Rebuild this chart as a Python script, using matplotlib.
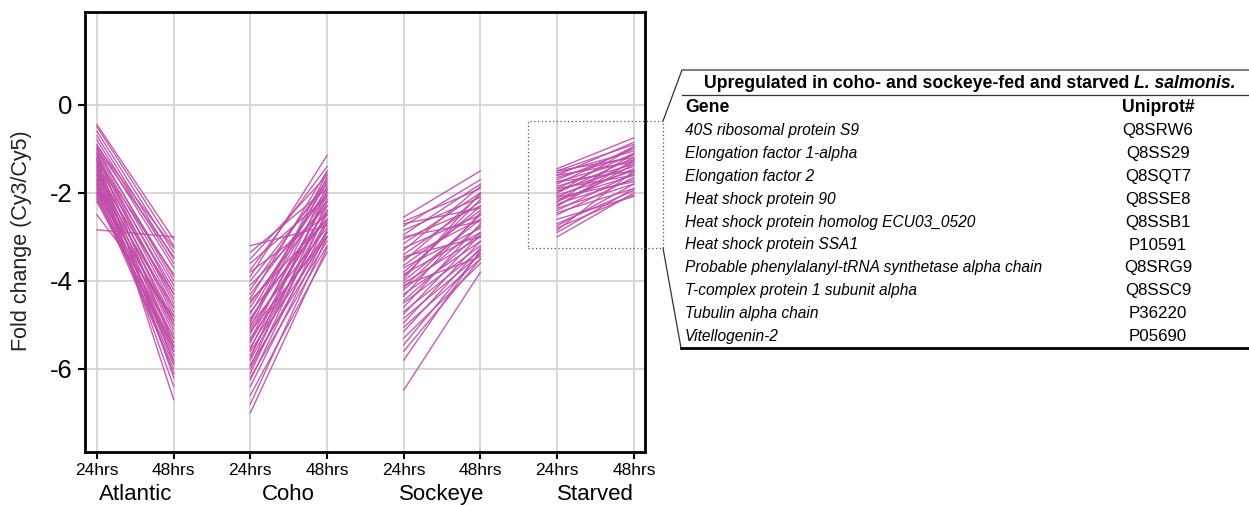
import matplotlib
matplotlib.use("Agg")
import matplotlib.pyplot as plt
from matplotlib.lines import Line2D
from matplotlib.patches import Rectangle

plt.rcParams['font.family'] = ['Liberation Sans', 'DejaVu Sans']

W, H = 1249, 505

# fold change at 24hrs / 48hrs for each gene, per group
atlantic_24 = [-0.45, -0.5, -0.6, -0.7, -0.8, -0.9, -1.0, -0.95, -1.05, -1.1, -1.15, -1.2,
               -1.25, -1.3, -1.35, -1.4, -1.45, -1.5, -1.55, -1.6, -1.65, -1.7, -1.75, -1.8,
               -1.85, -1.9, -1.95, -2.0, -2.05, -2.1, -2.15, -1.2, -1.3, -1.5, -1.1, -1.6,
               -1.8, -2.0, -2.5, -2.84, -1.4, -1.7, -1.0, -1.9, -2.2, -1.25]
atlantic_48 = [-3.05, -3.2, -3.35, -3.5, -3.6, -3.7, -3.45, -3.25, -3.9, -4.1, -4.3, -4.5,
               -4.2, -4.6, -4.4, -4.8, -4.7, -5.0, -4.9, -5.2, -5.1, -5.4, -5.3, -5.6,
               -5.5, -5.8, -5.7, -5.9, -6.0, -5.6, -5.3, -6.2, -6.7, -6.4, -5.5, -4.3,
               -4.6, -4.9, -4.8, -3.0, -5.85, -6.1, -4.0, -5.0, -5.5, -3.85]

coho_24 = [-3.2, -3.35, -3.5, -3.6, -3.75, -3.9, -4.0, -4.1, -4.2, -4.3, -4.4, -4.5,
           -4.6, -4.7, -4.75, -4.85, -4.9, -5.0, -5.05, -5.1, -5.2, -5.3, -5.35, -5.4,
           -5.5, -5.55, -5.6, -5.7, -5.75, -5.8, -5.9, -5.95, -6.0, -6.1, -6.2, -6.25,
           -6.4, -6.6, -6.8, -7.0, -4.45, -5.15, -3.8, -4.95]
coho_48 = [-2.75, -1.9, -1.6, -2.1, -1.4, -1.15, -1.8, -2.3, -1.7, -2.0, -1.5, -2.2,
           -1.9, -2.6, -1.75, -2.4, -2.0, -2.8, -1.65, -2.5, -2.15, -2.9, -1.85, -2.3,
           -2.7, -2.05, -3.0, -2.45, -1.95, -2.6, -3.1, -2.2, -2.85, -2.4, -3.2, -2.65,
           -2.9, -3.35, -3.0, -3.25, -2.6, -3.0, -2.5, -1.55]

sockeye_24 = [-2.55, -2.65, -2.75, -2.85, -2.95, -3.05, -3.15, -3.25, -3.3, -3.4, -3.5, -3.55,
              -3.65, -3.7, -3.8, -3.85, -3.9, -4.0, -4.05, -4.15, -4.2, -4.3, -4.35, -4.45,
              -4.5, -4.6, -4.7, -4.75, -4.85, -4.95, -5.05, -5.15, -5.3, -5.45, -5.6, -5.8,
              -6.48, -3.0, -3.45, -4.1, -2.7, -3.95]
sockeye_48 = [-1.5, -1.9, -1.7, -2.1, -1.8, -2.3, -2.0, -2.5, -1.85, -2.2, -2.6, -2.05,
              -2.4, -2.8, -2.3, -2.9, -2.15, -2.6, -3.0, -2.5, -2.75, -3.1, -2.45, -2.9,
              -3.2, -2.7, -3.3, -2.95, -3.4, -3.1, -3.5, -3.25, -3.6, -3.35, -3.5, -3.3,
              -3.8, -2.65, -3.0, -3.45, -2.35, -2.0]

starved_24 = [-1.45, -1.5, -1.55, -1.6, -1.65, -1.7, -1.75, -1.8, -1.85, -1.9, -1.95, -2.0,
              -2.05, -2.1, -2.15, -2.2, -2.25, -2.3, -2.35, -2.4, -2.45, -2.5, -2.7, -2.75,
              -2.8, -2.9, -3.0, -1.6, -1.75, -2.0, -2.2, -1.9, -2.3, -2.85, -1.5, -2.1, -2.6]
starved_48 = [-0.75, -0.9, -1.05, -0.85, -1.15, -1.0, -1.25, -0.95, -1.35, -1.1, -1.4, -1.2,
              -1.5, -1.3, -1.6, -1.45, -1.7, -1.35, -1.8, -1.55, -1.9, -1.65, -1.95, -1.8,
              -2.05, -1.9, -2.0, -1.3, -1.5, -0.95, -1.1, -1.6, -1.25, -1.5, -1.2, -1.75, -2.08]

groups = ['Atlantic', 'Coho', 'Sockeye', 'Starved']
series = [(atlantic_24, atlantic_48), (coho_24, coho_48),
          (sockeye_24, sockeye_48), (starved_24, starved_48)]
time_labels = ['24hrs', '48hrs']

table_title = 'Upregulated in coho- and sockeye-fed and starved '
table_title_it = 'L. salmonis.'
genes = ['40S ribosomal protein S9', 'Elongation factor 1-alpha', 'Elongation factor 2',
         'Heat shock protein 90', 'Heat shock protein homolog ECU03_0520',
         'Heat shock protein SSA1', 'Probable phenylalanyl-tRNA synthetase alpha chain',
         'T-complex protein 1 subunit alpha', 'Tubulin alpha chain', 'Vitellogenin-2']
uniprot = ['Q8SRW6', 'Q8SS29', 'Q8SQT7', 'Q8SSE8', 'Q8SSB1', 'P10591', 'Q8SRG9',
           'Q8SSC9', 'P36220', 'P05690']

color = '#c04ca8'


def fx(px):
    return px / W


def fy(py):
    return 1 - py / H


fig = plt.figure(figsize=(W / 100, H / 100), dpi=100)
ax = fig.add_axes([fx(85), fy(452), fx(645) - fx(85), fy(12) - fy(452)])

for g, (s24, s48) in enumerate(series):
    for a, b in zip(s24, s48):
        ax.plot([2 * g, 2 * g + 1], [a, b], color=color, lw=1.0, alpha=0.9, zorder=3)

ax.set_xlim(-0.156, 7.145)
ax.set_ylim(-7.89, 2.11)
ax.set_yticks([0, -2, -4, -6])
ax.set_yticklabels(['0', '-2', '-4', '-6'], fontsize=18.5)
ax.set_xticks(range(8))
ax.set_xticklabels(time_labels * 4, fontsize=12.5)
ax.grid(True, color='#d4d4d4', lw=1.3, zorder=0)
ax.set_axisbelow(True)
for sp in ax.spines.values():
    sp.set_linewidth(2)
ax.tick_params(axis='both', length=5, width=1.5, direction='out')
ax.tick_params(axis='x', pad=3)
ax.tick_params(axis='y', pad=4)
ax.set_ylabel('Fold change (Cy3/Cy5)', fontsize=15.5, color='#222222')
ax.yaxis.set_label_coords(-0.094, 0.48)

for g, name in enumerate(groups):
    ax.text(2 * g + 0.5, -0.0955, name, transform=ax.get_xaxis_transform(),
            ha='center', va='center', fontsize=16)

# callout box and connectors
fig.patches.append(Rectangle((fx(528), fy(248)), fx(663) - fx(528), fy(121) - fy(248),
                             transform=fig.transFigure, fill=False, ls=(0, (1, 2)),
                             ec='#555555', lw=0.9))
fig.lines.append(Line2D([fx(663), fx(682), fx(1249)], [fy(121), fy(70), fy(70)],
                        transform=fig.transFigure, color='#333333', lw=0.9))
fig.lines.append(Line2D([fx(682), fx(1249)], [fy(95), fy(95)],
                        transform=fig.transFigure, color='#333333', lw=0.9))
fig.lines.append(Line2D([fx(663), fx(681)], [fy(248), fy(348)],
                        transform=fig.transFigure, color='#333333', lw=0.9))
fig.lines.append(Line2D([fx(681), fx(1249)], [fy(348), fy(348)],
                        transform=fig.transFigure, color='black', lw=2))

# table title: regular bold part + italic bold part, centred together
t1 = fig.text(0, fy(83), table_title, fontsize=12.7, fontweight='bold', va='center')
t2 = fig.text(0, fy(83), table_title_it, fontsize=12.7, fontweight='bold',
              style='italic', va='center')
fig.canvas.draw()
r = fig.canvas.get_renderer()
w1 = t1.get_window_extent(r).width
w2 = t2.get_window_extent(r).width
start = 970 - (w1 + w2) / 2
t1.set_x(fx(start))
t2.set_x(fx(start + w1))

fig.text(fx(685), fy(107), 'Gene', fontsize=12.7, fontweight='bold', va='center')
fig.text(fx(1158), fy(107), 'Uniprot#', fontsize=12.7, fontweight='bold',
         va='center', ha='center')
for i, (gname, uid) in enumerate(zip(genes, uniprot)):
    y = 131 + i * 22.8
    fig.text(fx(685), fy(y), gname, fontsize=11.2, style='italic', va='center')
    fig.text(fx(1158), fy(y), uid, fontsize=12.2, va='center', ha='center')

fig.savefig('out.png', dpi=100)
